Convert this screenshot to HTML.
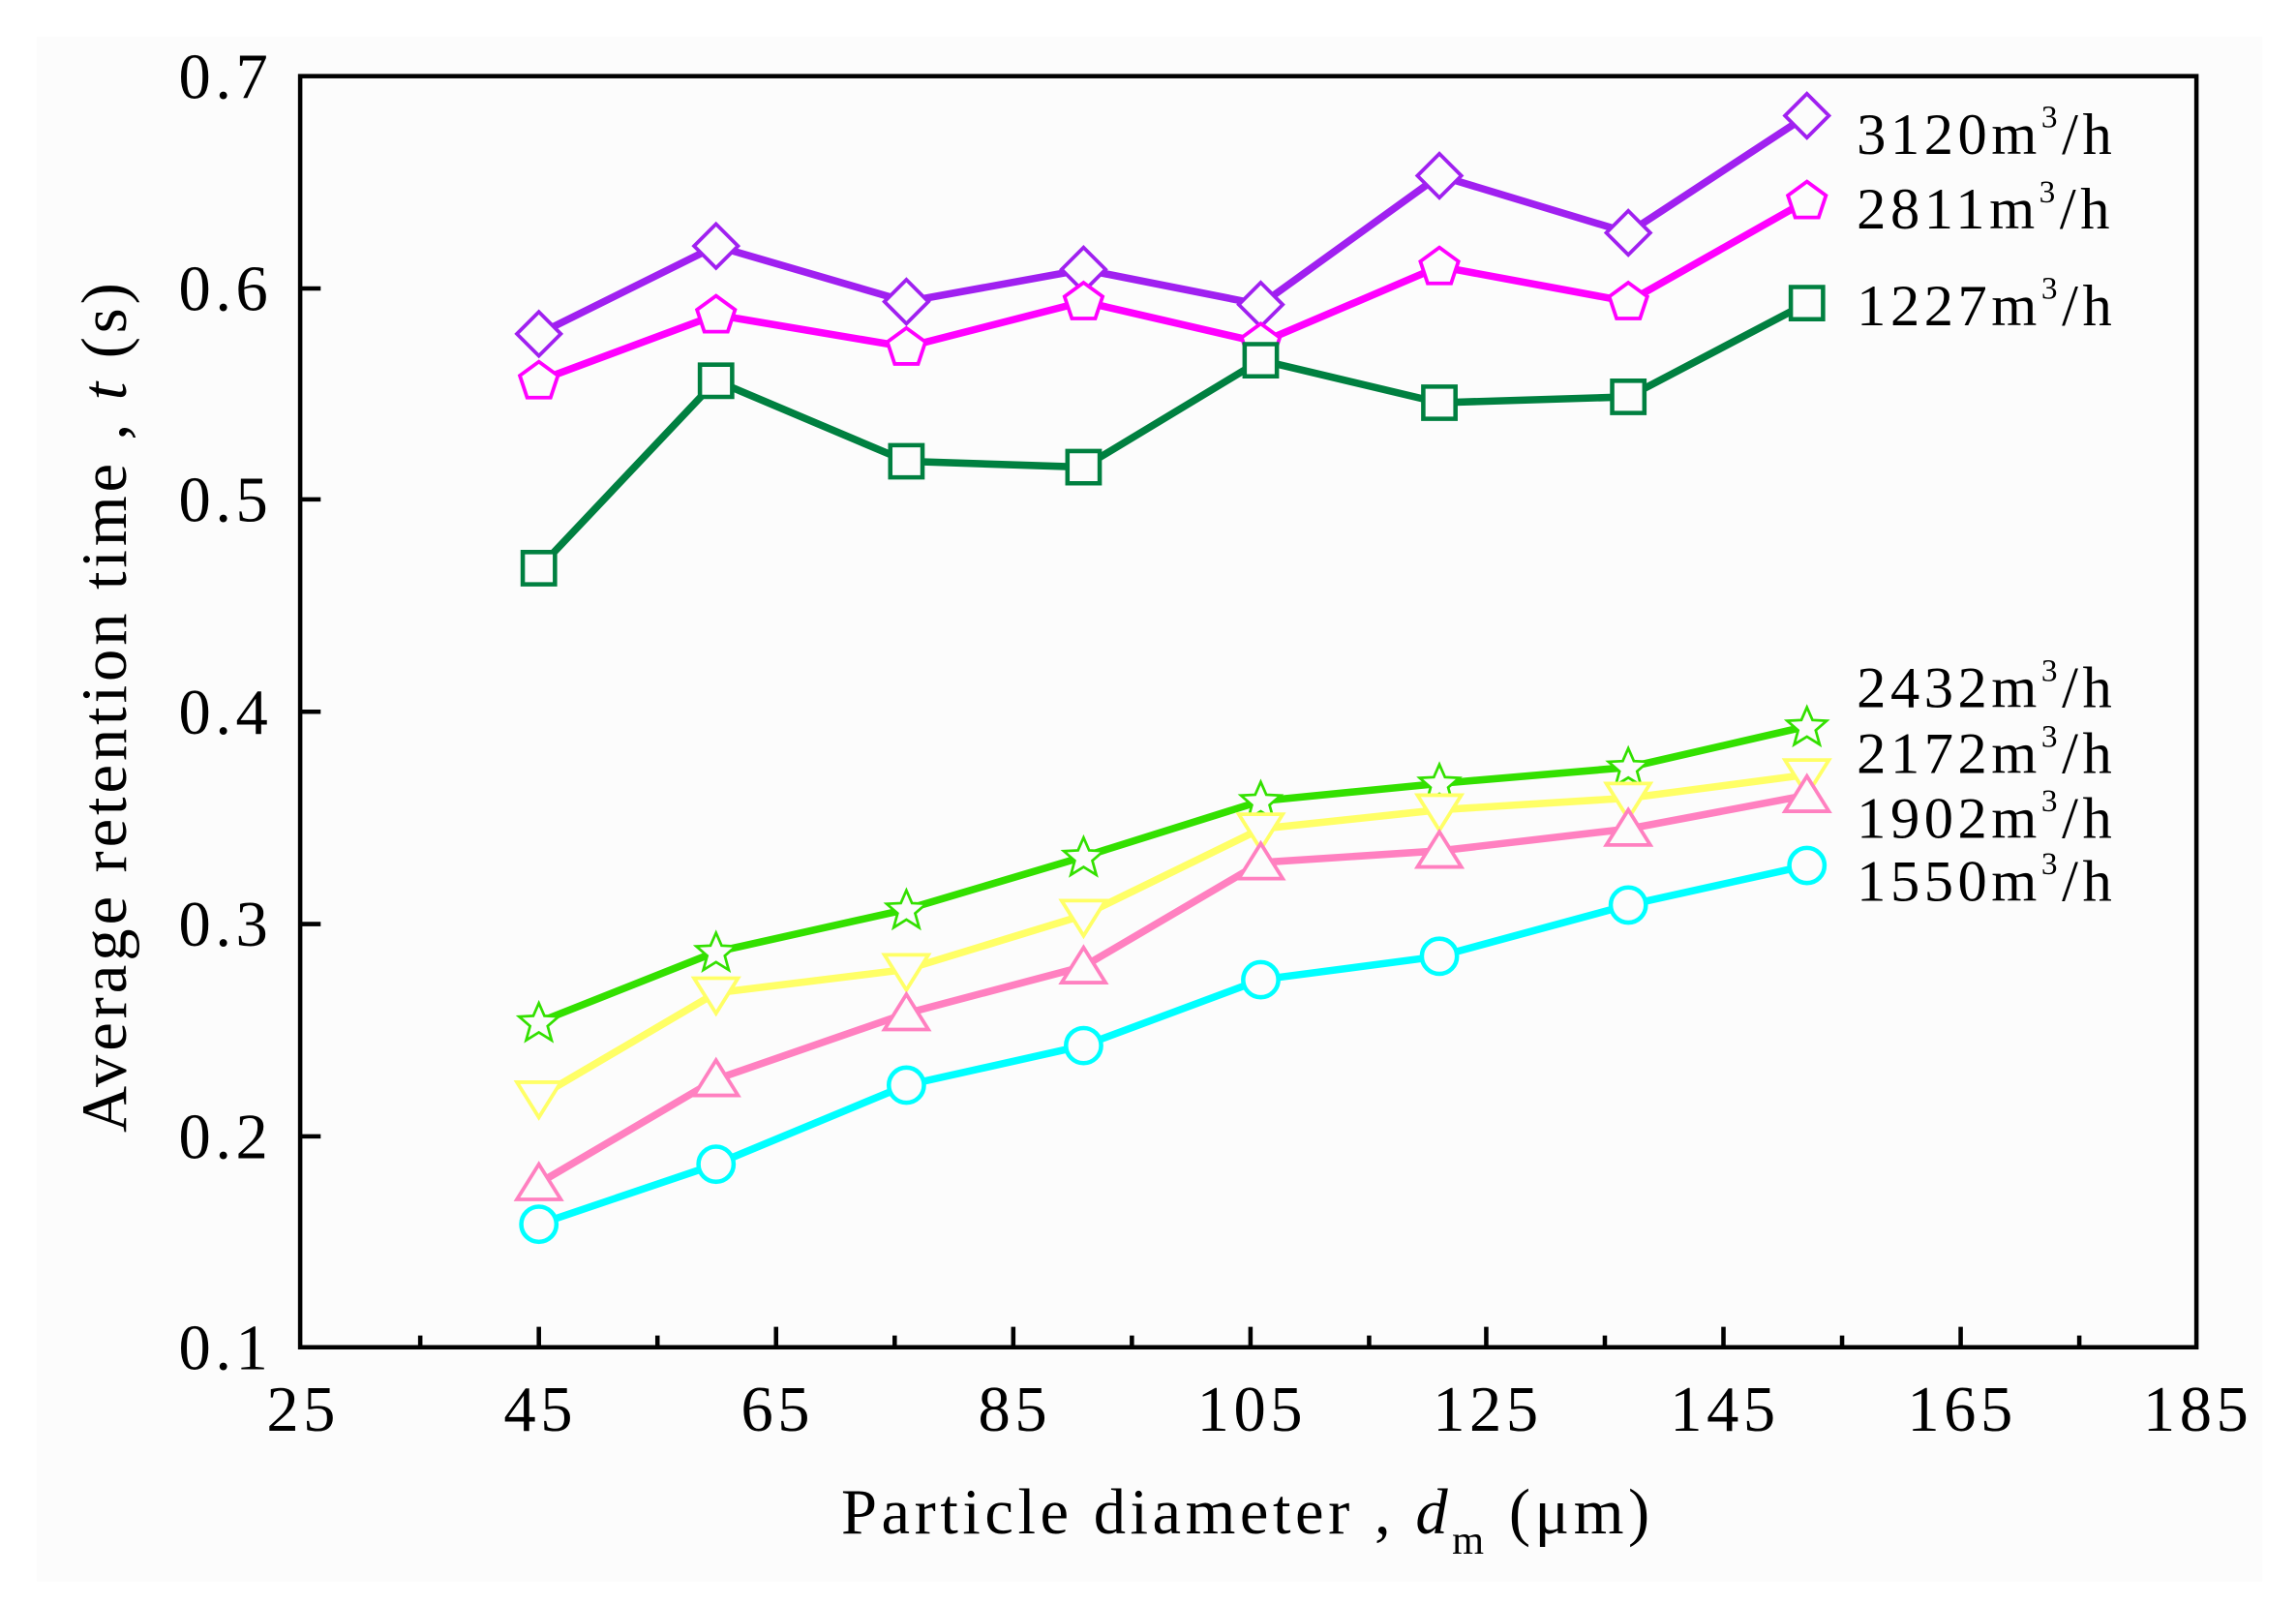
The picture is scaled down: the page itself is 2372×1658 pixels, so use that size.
<!DOCTYPE html>
<html><head><meta charset="utf-8"><style>html,body{margin:0;padding:0;background:#fff}svg{display:block}</style></head><body>
<svg width="2372" height="1658" viewBox="0 0 1568 1096" preserveAspectRatio="none" xmlns="http://www.w3.org/2000/svg" font-family="Liberation Serif, serif">
<rect x="0" y="0" width="1568" height="1096" fill="#fff"/>
<rect x="25" y="25" width="1520" height="1055" fill="#fcfcfc"/>
<g stroke="#000" stroke-width="3" fill="none">
<rect x="205" y="52" width="1295" height="868"/>
<path d="M368,920v-14 M530,920v-14 M692,920v-14 M854,920v-14 M1015,920v-14 M1177,920v-14 M1339,920v-14 M287,920v-8 M449,920v-8 M611,920v-8 M773,920v-8 M935,920v-8 M1096,920v-8 M1258,920v-8 M1420,920v-8"/>
<path d="M205,776h14 M205,631h14 M205,486h14 M205,341h14 M205,197h14"/>
</g>
<g font-size="44" text-anchor="end" letter-spacing="3">
<text x="186" y="935">0.1</text><text x="186" y="791">0.2</text><text x="186" y="646">0.3</text><text x="186" y="501">0.4</text><text x="186" y="356">0.5</text><text x="186" y="212">0.6</text><text x="186" y="67">0.7</text>
</g>
<g font-size="44" text-anchor="middle" letter-spacing="3">
<text x="207" y="977">25</text><text x="369" y="977">45</text><text x="531" y="977">65</text><text x="693" y="977">85</text><text x="855" y="977">105</text><text x="1016" y="977">125</text><text x="1178" y="977">145</text><text x="1340" y="977">165</text><text x="1501" y="977">185</text>
</g>
<text x="852" y="1047" font-size="44" text-anchor="middle" letter-spacing="3">Particle diameter , <tspan font-style="italic">d</tspan><tspan font-size="28" dy="14">m</tspan><tspan dy="-14"> (μm)</tspan></text>
<text transform="translate(86,482) rotate(-90)" font-size="44" text-anchor="middle" letter-spacing="2.6">Average retention time , <tspan font-style="italic">t</tspan> (s)</text>
<g fill="none" stroke-width="5">
<polyline stroke="#a020f0" points="368,228 489,168 619,206 740,184 861,208 983,120 1112,159 1234,79"/>
<polyline stroke="#ff00ff" points="368,260 489,215 619,237 740,206 861,234 983,182 1112,206 1234,137"/>
<polyline stroke="#008040" points="368,388 489,260 619,315 740,319 861,246 983,275 1112,271 1234,207"/>
<polyline stroke="#33e000" points="368,698 489,650 619,621 740,585 861,547 983,535 1112,524 1234,496"/>
<polyline stroke="#ffff66" points="368,749 489,678 619,662 740,625 861,566 983,553 1112,545 1234,529"/>
<polyline stroke="#ff80c0" points="368,808 489,737 619,692 740,660 861,589 983,581 1112,566 1234,543"/>
<polyline stroke="#00ffff" points="368,836 489,795 619,741 740,714 861,669 983,653 1112,618 1234,591"/>
</g>
<g fill="#fcfcfc" stroke-width="2.5">
<g stroke="#a020f0"><path d="M368,213l15,15l-15,15l-15,-15z M489,153l15,15l-15,15l-15,-15z M619,191l15,15l-15,15l-15,-15z M740,169l15,15l-15,15l-15,-15z M861,193l15,15l-15,15l-15,-15z M983,105l15,15l-15,15l-15,-15z M1112,144l15,15l-15,15l-15,-15z M1234,64l15,15l-15,15l-15,-15z"/></g>
<g stroke="#ff00ff"><path d="M368,247l13,9.5l-5,15h-16l-5,-15z M489,202l13,9.5l-5,15h-16l-5,-15z M619,224l13,9.5l-5,15h-16l-5,-15z M740,193l13,9.5l-5,15h-16l-5,-15z M861,221l13,9.5l-5,15h-16l-5,-15z M983,169l13,9.5l-5,15h-16l-5,-15z M1112,193l13,9.5l-5,15h-16l-5,-15z M1234,124l13,9.5l-5,15h-16l-5,-15z"/></g>
<g stroke="#008040" stroke-width="3"><path d="M357,377h22v22h-22z M478,249h22v22h-22z M608,304h22v22h-22z M729,308h22v22h-22z M850,235h22v22h-22z M972,264h22v22h-22z M1101,260h22v22h-22z M1223,196h22v22h-22z"/></g>
<g stroke="#33e000" stroke-width="1.8">
<path d="M368,685l3.8,8.7l9.7,0.5l-7.5,6.5l2.7,9.7l-8.7,-5.4l-8.7,5.4l2.7,-9.7l-7.5,-6.5l9.7,-0.5z"/>
<path d="M489,637l3.8,8.7l9.7,0.5l-7.5,6.5l2.7,9.7l-8.7,-5.4l-8.7,5.4l2.7,-9.7l-7.5,-6.5l9.7,-0.5z"/>
<path d="M619,608l3.8,8.7l9.7,0.5l-7.5,6.5l2.7,9.7l-8.7,-5.4l-8.7,5.4l2.7,-9.7l-7.5,-6.5l9.7,-0.5z"/>
<path d="M740,572l3.8,8.7l9.7,0.5l-7.5,6.5l2.7,9.7l-8.7,-5.4l-8.7,5.4l2.7,-9.7l-7.5,-6.5l9.7,-0.5z"/>
<path d="M861,534l3.8,8.7l9.7,0.5l-7.5,6.5l2.7,9.7l-8.7,-5.4l-8.7,5.4l2.7,-9.7l-7.5,-6.5l9.7,-0.5z"/>
<path d="M983,522l3.8,8.7l9.7,0.5l-7.5,6.5l2.7,9.7l-8.7,-5.4l-8.7,5.4l2.7,-9.7l-7.5,-6.5l9.7,-0.5z"/>
<path d="M1112,511l3.8,8.7l9.7,0.5l-7.5,6.5l2.7,9.7l-8.7,-5.4l-8.7,5.4l2.7,-9.7l-7.5,-6.5l9.7,-0.5z"/>
<path d="M1234,483l3.8,8.7l9.7,0.5l-7.5,6.5l2.7,9.7l-8.7,-5.4l-8.7,5.4l2.7,-9.7l-7.5,-6.5l9.7,-0.5z"/>
</g>
<g stroke="#ffff66"><path d="M353,739h30l-15,24z M474,668h30l-15,24z M604,652h30l-15,24z M725,615h30l-15,24z M846,556h30l-15,24z M968,543h30l-15,24z M1097,535h30l-15,24z M1219,519h30l-15,24z"/></g>
<g stroke="#ff80c0"><path d="M353,819h30l-15,-24z M474,748h30l-15,-24z M604,703h30l-15,-24z M725,671h30l-15,-24z M846,600h30l-15,-24z M968,592h30l-15,-24z M1097,577h30l-15,-24z M1219,554h30l-15,-24z"/></g>
<g stroke="#00ffff" stroke-width="3"><circle cx="368" cy="836" r="12"/><circle cx="489" cy="795" r="12"/><circle cx="619" cy="741" r="12"/><circle cx="740" cy="714" r="12"/><circle cx="861" cy="669" r="12"/><circle cx="983" cy="653" r="12"/><circle cx="1112" cy="618" r="12"/><circle cx="1234" cy="591" r="12"/></g>
</g>
<g font-size="40" letter-spacing="3">
<text x="1268" y="105">3120m<tspan font-size="22" dy="-18">3</tspan><tspan dy="18">/h</tspan></text>
<text x="1268" y="156">2811m<tspan font-size="22" dy="-18">3</tspan><tspan dy="18">/h</tspan></text>
<text x="1268" y="222">1227m<tspan font-size="22" dy="-18">3</tspan><tspan dy="18">/h</tspan></text>
<text x="1268" y="483">2432m<tspan font-size="22" dy="-18">3</tspan><tspan dy="18">/h</tspan></text>
<text x="1268" y="528">2172m<tspan font-size="22" dy="-18">3</tspan><tspan dy="18">/h</tspan></text>
<text x="1268" y="572">1902m<tspan font-size="22" dy="-18">3</tspan><tspan dy="18">/h</tspan></text>
<text x="1268" y="615">1550m<tspan font-size="22" dy="-18">3</tspan><tspan dy="18">/h</tspan></text>
</g>
</svg>
</body></html>
